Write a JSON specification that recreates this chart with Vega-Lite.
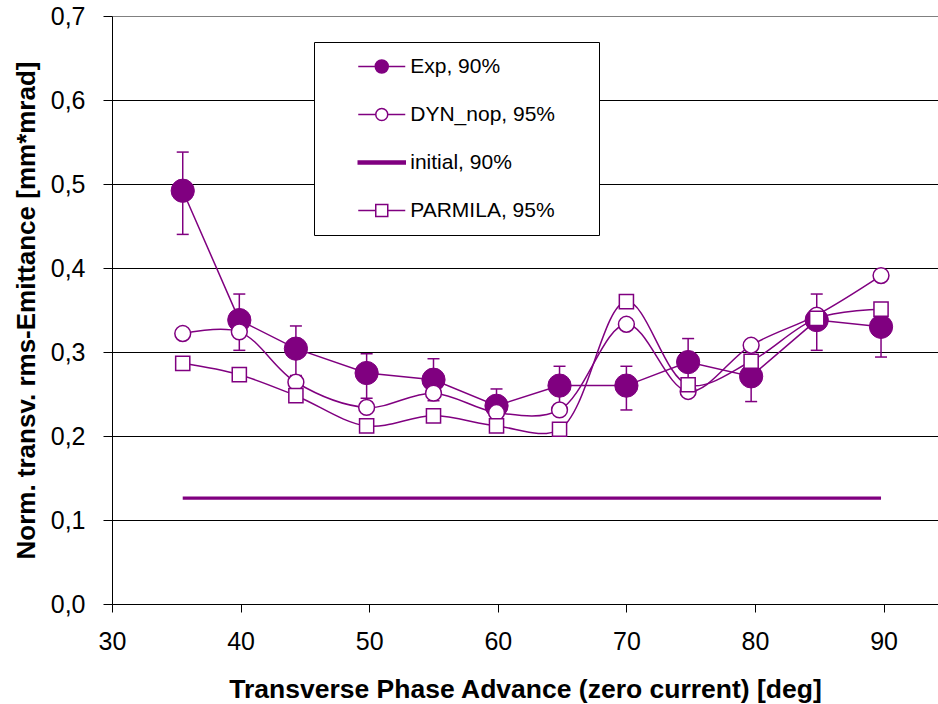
{
  "$schema": "https://vega.github.io/schema/vega-lite/v6.json",
  "autosize": "none",
  "width": 826,
  "height": 588,
  "padding": {"left": 112, "top": 16, "right": 0, "bottom": 100},
  "background": "white",
  "config": {
    "view": {"stroke": null},
    "font": "Liberation Sans",
    "axis": {"labelFont": "Liberation Sans", "titleFont": "Liberation Sans", "labelColor": "black", "titleColor": "black", "domainColor": "black", "tickColor": "black", "domainWidth": 1, "tickWidth": 1},
    "legend": {"title": null, "orient": "none", "legendX": 202, "legendY": 26, "padding": 14, "strokeColor": "black", "fillColor": "white",
      "rowPadding": 26, "symbolOffset": 43.25, "labelOffset": 18, "labelFont": "Liberation Sans", "labelFontSize": 21, "labelColor": "black",
      "symbolSize": 100, "symbolStrokeWidth": 1.5, "labelLimit": 0}
  },
  "data": {"values": [
    {"series": "Exp, 90%", "x": 35.5, "y": 0.492, "lo": 0.440, "hi": 0.538},
    {"series": "Exp, 90%", "x": 39.9, "y": 0.338, "lo": 0.302, "hi": 0.369},
    {"series": "Exp, 90%", "x": 44.3, "y": 0.304, "lo": 0.272, "hi": 0.331},
    {"series": "Exp, 90%", "x": 49.8, "y": 0.275, "lo": 0.245, "hi": 0.298},
    {"series": "Exp, 90%", "x": 55.0, "y": 0.267, "lo": 0.242, "hi": 0.292},
    {"series": "Exp, 90%", "x": 59.9, "y": 0.236, "lo": 0.216, "hi": 0.256},
    {"series": "Exp, 90%", "x": 64.8, "y": 0.260, "lo": 0.237, "hi": 0.283},
    {"series": "Exp, 90%", "x": 70.0, "y": 0.260, "lo": 0.231, "hi": 0.283},
    {"series": "Exp, 90%", "x": 74.8, "y": 0.288, "lo": 0.260, "hi": 0.316},
    {"series": "Exp, 90%", "x": 79.7, "y": 0.271, "lo": 0.241, "hi": 0.296},
    {"series": "Exp, 90%", "x": 84.8, "y": 0.338, "lo": 0.302, "hi": 0.369},
    {"series": "Exp, 90%", "x": 89.8, "y": 0.330, "lo": 0.294, "hi": 0.358},
    {"series": "DYN_nop, 95%", "x": 35.5, "y": 0.322},
    {"series": "DYN_nop, 95%", "x": 39.9, "y": 0.324},
    {"series": "DYN_nop, 95%", "x": 44.3, "y": 0.264},
    {"series": "DYN_nop, 95%", "x": 49.8, "y": 0.234},
    {"series": "DYN_nop, 95%", "x": 55.0, "y": 0.251},
    {"series": "DYN_nop, 95%", "x": 59.9, "y": 0.228},
    {"series": "DYN_nop, 95%", "x": 64.8, "y": 0.231},
    {"series": "DYN_nop, 95%", "x": 70.0, "y": 0.333},
    {"series": "DYN_nop, 95%", "x": 74.8, "y": 0.253},
    {"series": "DYN_nop, 95%", "x": 79.7, "y": 0.308},
    {"series": "DYN_nop, 95%", "x": 84.8, "y": 0.344},
    {"series": "DYN_nop, 95%", "x": 89.8, "y": 0.391},
    {"series": "initial, 90%", "x": 35.5, "y": 0.126},
    {"series": "initial, 90%", "x": 89.8, "y": 0.126},
    {"series": "PARMILA, 95%", "x": 35.5, "y": 0.2865},
    {"series": "PARMILA, 95%", "x": 39.9, "y": 0.273},
    {"series": "PARMILA, 95%", "x": 44.3, "y": 0.248},
    {"series": "PARMILA, 95%", "x": 49.8, "y": 0.212},
    {"series": "PARMILA, 95%", "x": 55.0, "y": 0.224},
    {"series": "PARMILA, 95%", "x": 59.9, "y": 0.212},
    {"series": "PARMILA, 95%", "x": 64.8, "y": 0.208},
    {"series": "PARMILA, 95%", "x": 70.0, "y": 0.360},
    {"series": "PARMILA, 95%", "x": 74.8, "y": 0.261},
    {"series": "PARMILA, 95%", "x": 79.7, "y": 0.289},
    {"series": "PARMILA, 95%", "x": 84.8, "y": 0.340},
    {"series": "PARMILA, 95%", "x": 89.8, "y": 0.351}
  ]},
  "encoding": {
    "x": {"field": "x", "type": "quantitative",
      "scale": {"domain": [30, 94.23], "nice": false, "zero": false},
      "axis": {"values": [30, 40, 50, 60, 70, 80, 90], "grid": false, "tickSize": 8, "labelFontSize": 25, "labelPadding": 17, "labelFlush": false,
        "title": "Transverse Phase Advance (zero current) [deg]", "titleFontSize": 26.5, "titleFontWeight": "bold", "titlePadding": 22}},
    "y": {"field": "y", "type": "quantitative",
      "scale": {"domain": [0, 0.7], "nice": false, "zero": true},
      "axis": {"values": [0, 0.1, 0.2, 0.3, 0.4, 0.5, 0.6, 0.7], "grid": true,
        "gridColor": {"condition": {"test": "datum.value > 0.65", "value": "#808080"}, "value": "black"}, "gridWidth": 1,
        "tickSize": 9, "labelFontSize": 25, "labelPadding": 18, "labelFlush": false,
        "labelExpr": "replace(format(datum.value, '.1f'), '.', ',')",
        "title": "Norm. transv. rms-Emittance [mm*mrad]", "titleFontSize": 26, "titleFontWeight": "bold", "titlePadding": 11}}
  },
  "layer": [
    {"transform": [{"filter": "datum.series === 'Exp, 90%'"}],
     "mark": {"type": "line", "color": "#800080", "strokeWidth": 1.5}},
    {"transform": [{"filter": "datum.series === 'Exp, 90%'"}],
     "mark": {"type": "rule", "color": "#800080", "strokeWidth": 1.5},
     "encoding": {"y": {"field": "lo", "type": "quantitative"}, "y2": {"field": "hi"}}},
    {"transform": [{"filter": "datum.series === 'Exp, 90%'"}],
     "mark": {"type": "tick", "orient": "horizontal", "color": "#800080", "size": 12, "thickness": 1.5, "opacity": 1},
     "encoding": {"y": {"field": "lo", "type": "quantitative"}}},
    {"transform": [{"filter": "datum.series === 'Exp, 90%'"}],
     "mark": {"type": "tick", "orient": "horizontal", "color": "#800080", "size": 12, "thickness": 1.5, "opacity": 1},
     "encoding": {"y": {"field": "hi", "type": "quantitative"}}},
    {"transform": [{"filter": "datum.series === 'Exp, 90%'"}],
     "mark": {"type": "point", "shape": "circle", "filled": true, "fill": "#800080", "stroke": "#800080", "strokeWidth": 1, "size": 540, "opacity": 1}},
    {"transform": [{"filter": "datum.series === 'DYN_nop, 95%'"}],
     "mark": {"type": "line", "color": "#800080", "strokeWidth": 1.5, "interpolate": "catmull-rom"}},
    {"transform": [{"filter": "datum.series === 'DYN_nop, 95%'"}],
     "mark": {"type": "point", "shape": "circle", "filled": true, "fill": "white", "stroke": "#800080", "strokeWidth": 1.5, "size": 250, "opacity": 1}},
    {"transform": [{"filter": "datum.series === 'initial, 90%'"}],
     "mark": {"type": "line", "color": "#800080", "strokeWidth": 3.3}},
    {"transform": [{"filter": "datum.series === 'PARMILA, 95%'"}],
     "mark": {"type": "line", "color": "#800080", "strokeWidth": 1.5, "interpolate": "catmull-rom"}},
    {"transform": [{"filter": "datum.series === 'PARMILA, 95%'"}],
     "mark": {"type": "point", "shape": "square", "filled": true, "fill": "white", "stroke": "#800080", "strokeWidth": 1.5, "size": 200, "opacity": 1}},
    {"transform": [{"filter": "false"}],
     "mark": {"type": "point", "filled": true, "strokeWidth": 1.5, "opacity": 1},
     "encoding": {
       "shape": {"field": "series", "type": "nominal",
         "scale": {"domain": ["Exp, 90%", "DYN_nop, 95%", "initial, 90%", "PARMILA, 95%"],
           "range": [
             "M-4.7,0H-1.3M1.3,0H4.7M-1.3,0A1.3,1.3 0 1,0 1.3,0A1.3,1.3 0 1,0 -1.3,0ZM40,0",
             "M-4.7,0H-1.2M1.2,0H4.7M-1.2,0A1.2,1.2 0 1,0 1.2,0A1.2,1.2 0 1,0 -1.2,0ZM40,0",
             "M-4.7,-0.3H4.7V0.3H-4.7ZM40,0",
             "M-4.7,0H-1.2M1.2,0H4.7M-1.2,-1.2H1.2V1.2H-1.2ZM40,0"]},
         "legend": {"title": null}},
       "fill": {"field": "series", "type": "nominal",
         "scale": {"domain": ["Exp, 90%", "DYN_nop, 95%", "initial, 90%", "PARMILA, 95%"], "range": ["#800080", "#ffffff", "#800080", "#ffffff"]},
         "legend": {"title": null}},
       "stroke": {"field": "series", "type": "nominal",
         "scale": {"domain": ["Exp, 90%", "DYN_nop, 95%", "initial, 90%", "PARMILA, 95%"], "range": ["#800080", "#800080", "#800080", "#800080"]},
         "legend": {"title": null}}
     }}
  ]
}
